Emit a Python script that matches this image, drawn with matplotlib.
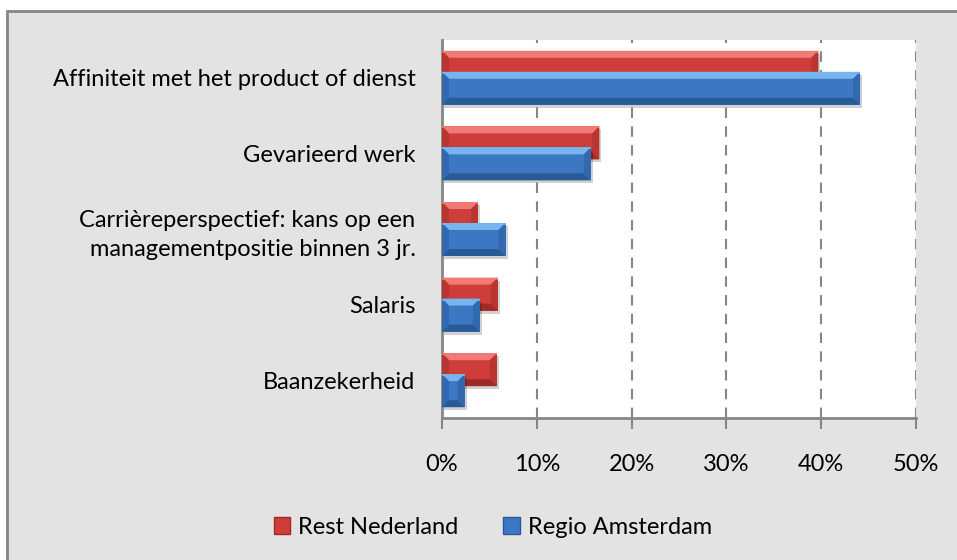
import numpy as np
import matplotlib.pyplot as plt
from matplotlib.patches import Polygon, Rectangle, Patch

categories = ['Affiniteit met het product of dienst',
              'Gevarieerd werk',
              'Carrièreperspectief: kans op een\nmanagementpositie binnen 3 jr.',
              'Salaris',
              'Baanzekerheid']
rest_nl = [39.7, 16.6, 3.8, 5.9, 5.8]
regio_ams = [44.1, 15.7, 6.7, 4.0, 2.4]
xticks = [0, 10, 20, 30, 40, 50]

plt.rcParams['font.family'] = ['Lato', 'DejaVu Sans']
FS = 17

RED = {'face': '#cf3d3b', 'top': '#f27a76', 'bot': '#9e2a28', 'side': '#b83532'}
BLUE = {'face': '#3b77c2', 'top': '#78b4ee', 'bot': '#285a96', 'side': '#3268ad'}

fig = plt.figure(figsize=(9.57, 5.6), dpi=100)
W, H = 957, 560
# outer chart frame
fig.patches.append(Rectangle((7 / W, -0.1), 1.1, 1 - 11 / H + 0.1,
                             transform=fig.transFigure, facecolor='#e3e3e3',
                             edgecolor='#868686', linewidth=2, zorder=-5))

ax = fig.add_axes([442 / W, 1 - 418 / H, 474 / W, 378 / H])
ax.set_zorder(2)
ax.set_facecolor('white')
ax.set_xlim(0, 50)
ax.set_ylim(4.5, -0.5)

px_x = 50 / 474.0   # data units per pixel
px_y = 5 / 378.0


def bevel_bar(ax, x1, yc, h, col, z):
    x0 = 0
    y0, y1 = yc - h / 2, yc + h / 2   # y0 is top (inverted axis)
    b = min(7 * px_x, (x1 - x0) / 2)
    by = 7 * px_y
    # shadow
    ax.add_patch(Rectangle((x0 + 2 * px_x, y0 + 3 * px_y), x1 - x0, h,
                           facecolor='#000000', alpha=0.18, lw=0, zorder=z - 0.5))
    ax.add_patch(Rectangle((x0, y0), x1 - x0, h, facecolor=col['face'], lw=0, zorder=z))
    # top bevel (lighter)
    ax.add_patch(Polygon([(x0, y0), (x1, y0), (x1 - b, y0 + by), (x0 + b, y0 + by)],
                         facecolor=col['top'], lw=0, zorder=z + 0.1))
    # bottom bevel (darker)
    ax.add_patch(Polygon([(x0, y1), (x1, y1), (x1 - b, y1 - by), (x0 + b, y1 - by)],
                         facecolor=col['bot'], lw=0, zorder=z + 0.1))
    # right bevel
    ax.add_patch(Polygon([(x1, y0), (x1, y1), (x1 - b, y1 - by), (x1 - b, y0 + by)],
                         facecolor=col['side'], lw=0, zorder=z + 0.1))
    # left bevel
    ax.add_patch(Polygon([(x0, y0), (x0, y1), (x0 + b, y1 - by), (x0 + b, y0 + by)],
                         facecolor=col['side'], lw=0, zorder=z + 0.1))
    # bright line along top edge
    ax.plot([x0, x1], [y0 + 1 * px_y, y0 + 1 * px_y], color=col['top'], lw=1.2,
            zorder=z + 0.2, solid_capstyle='butt')


y = np.arange(len(categories))
h = 33 * px_y
off = 10.5 * px_y
for i in range(len(categories)):
    bevel_bar(ax, rest_nl[i], y[i] - off, h, RED, 3)
    bevel_bar(ax, regio_ams[i], y[i] + off, h, BLUE, 4)

ax.set_xticks(xticks)
ax.set_xticklabels([f'{t}%' for t in xticks])
ax.set_yticks(y)
ax.set_yticklabels(categories, ha='right', multialignment='right', linespacing=1.45)
ax.tick_params(axis='y', length=0, pad=19, labelsize=FS, colors='black')
ax.tick_params(axis='x', length=8, width=1.5, color='#868686', pad=18,
               labelsize=FS)
ax.xaxis.grid(True, linestyle=(0, (5, 4)), color='#868686', linewidth=1.5)
ax.set_axisbelow(True)
for s in ['top', 'right']:
    ax.spines[s].set_visible(False)
for s in ['left', 'bottom']:
    ax.spines[s].set_color('#868686')
    ax.spines[s].set_linewidth(2)

handles = [Patch(facecolor=RED['face'], edgecolor=RED['bot'], label='Rest Nederland'),
           Patch(facecolor=BLUE['face'], edgecolor=BLUE['bot'], label='Regio Amsterdam')]
fig.legend(handles=handles, loc='center', bbox_to_anchor=(493 / W, 1 - 527 / H),
           ncol=2, frameon=False, fontsize=FS, handlelength=0.7, handleheight=0.7,
           handletextpad=0.35, columnspacing=1.9)

fig.savefig('out.png', dpi=100)
